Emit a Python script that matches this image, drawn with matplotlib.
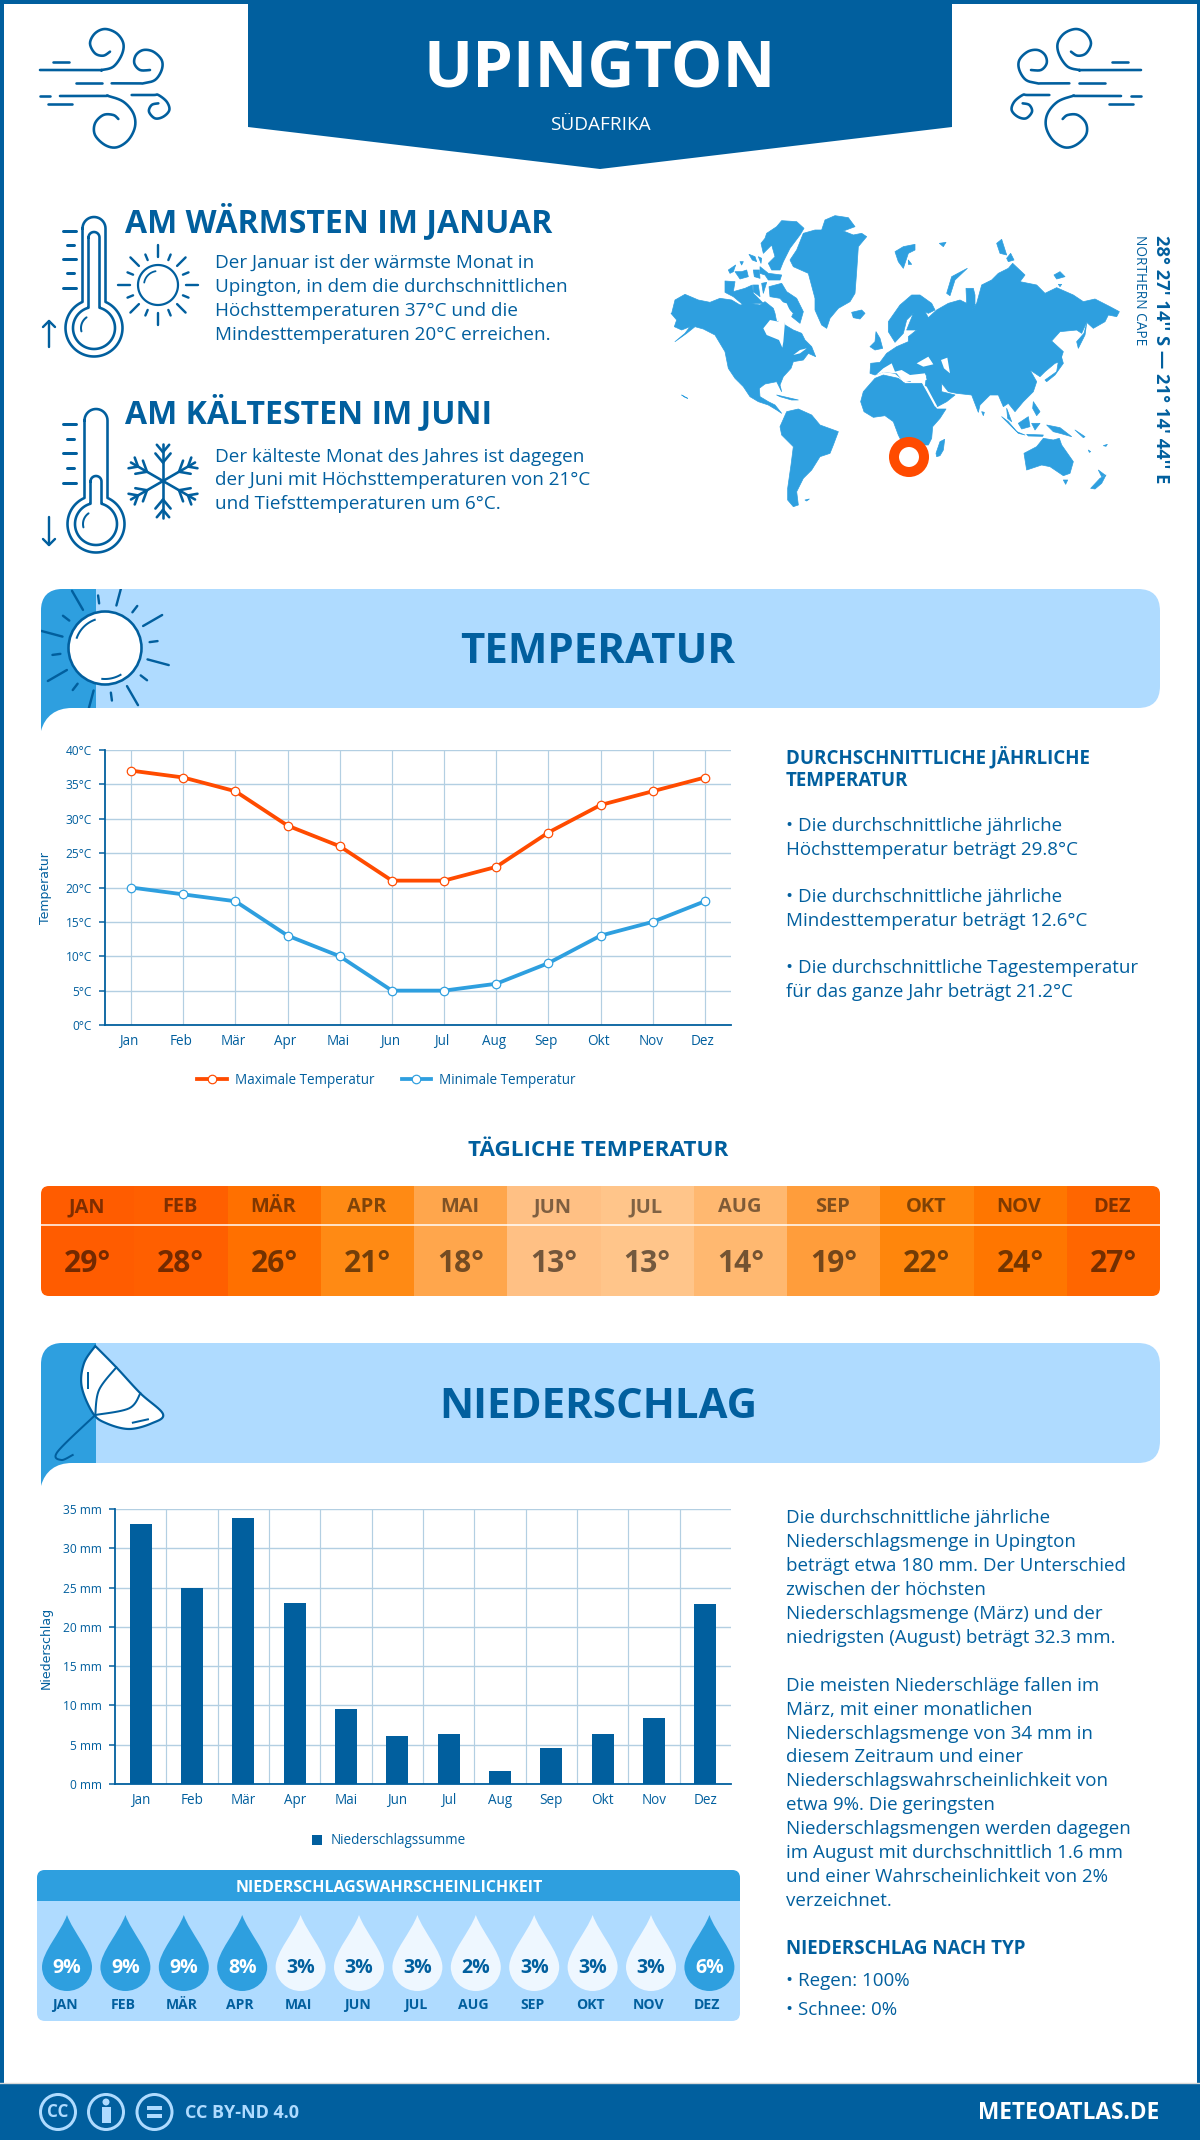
import numpy as np
import matplotlib
matplotlib.use("Agg")
import matplotlib.pyplot as plt
from matplotlib.patches import Circle, FancyBboxPatch, PathPatch, Polygon, Rectangle
from matplotlib.path import Path
from matplotlib.transforms import ScaledTranslation

DARK = "#015f9e"
MID = "#2e9fdf"
LIGHT = "#afdbff"
PALE = "#eef7ff"
RED = "#ff4b00"
GRID = "#b3cfe2"

months = ["Jan", "Feb", "Mär", "Apr", "Mai", "Jun", "Jul", "Aug", "Sep", "Okt", "Nov", "Dez"]
months_upper = ["JAN", "FEB", "MÄR", "APR", "MAI", "JUN", "JUL", "AUG", "SEP", "OKT", "NOV", "DEZ"]
temp_max = [37, 36, 34, 29, 26, 21, 21, 23, 28, 32, 34, 36]
temp_min = [20, 19, 18, 13, 10, 5, 5, 6, 9, 13, 15, 18]
temp_ticks = [0, 5, 10, 15, 20, 25, 30, 35, 40]
daily_temp = [29, 28, 26, 21, 18, 13, 13, 14, 19, 22, 24, 27]
daily_colors = ["#ff5c00", "#ff5f00", "#ff7000", "#ff8a14", "#ffa64c", "#ffc084",
                "#ffc58a", "#ffb870", "#ff9d3b", "#ff860c", "#ff7600", "#ff6600"]
rain = [33.1, 25.0, 33.9, 23.0, 9.6, 6.15, 6.4, 1.7, 4.6, 6.4, 8.45, 22.85]
rain_ticks = [0, 5, 10, 15, 20, 25, 30, 35]
rain_prob = [9, 9, 9, 8, 3, 3, 3, 2, 3, 3, 3, 6]

warm_lines = ["Der Januar ist der wärmste Monat in",
              "Upington, in dem die durchschnittlichen",
              "Höchsttemperaturen 37°C und die",
              "Mindesttemperaturen 20°C erreichen."]
cold_lines = ["Der kälteste Monat des Jahres ist dagegen",
              "der Juni mit Höchsttemperaturen von 21°C",
              "und Tiefsttemperaturen um 6°C."]
temp_notes = ["• Die durchschnittliche jährliche", "Höchsttemperatur beträgt 29.8°C", "",
              "• Die durchschnittliche jährliche", "Mindesttemperatur beträgt 12.6°C", "",
              "• Die durchschnittliche Tagestemperatur", "für das ganze Jahr beträgt 21.2°C"]
rain_notes = ["Die durchschnittliche jährliche", "Niederschlagsmenge in Upington",
              "beträgt etwa 180 mm. Der Unterschied", "zwischen der höchsten",
              "Niederschlagsmenge (März) und der", "niedrigsten (August) beträgt 32.3 mm.", "",
              "Die meisten Niederschläge fallen im", "März, mit einer monatlichen",
              "Niederschlagsmenge von 34 mm in", "diesem Zeitraum und einer",
              "Niederschlagswahrscheinlichkeit von", "etwa 9%. Die geringsten",
              "Niederschlagsmengen werden dagegen", "im August mit durchschnittlich 1.6 mm",
              "und einer Wahrscheinlichkeit von 2%", "verzeichnet."]

# world map outlines, traced at 3x, west part starts at px (665, 205), east part at px (860, 205)
land_west = [
    [(20,325),(30,285),(60,268),(100,285),(135,292),(165,280),(200,285),(225,300),(255,295),(285,300),(300,290),(325,310),(330,325),(335,350),(355,345),(360,360),(385,375),(410,385),(420,405),(440,425),(452,455),(430,445),(415,465),(385,470),(378,490),(355,515),(345,540),(350,560),(335,530),(300,537),(283,550),(285,575),(310,590),(330,600),(350,625),(335,615),(310,600),(280,590),(255,575),(235,545),(210,520),(190,490),(180,440),(150,390),(115,372),(90,365),(65,385),(30,410),(60,385),(75,365),(50,375),(28,365),(35,345),(18,325)],
    [(312,245),(350,235),(365,260),(395,280),(415,320),(405,355),(380,335),(385,325),(345,280),(315,275)],
    [(180,228),(210,230),(205,260),(240,250),(262,240),(265,265),(280,280),(295,295),(270,295),(235,300),(205,275),(180,262)],
    [(190,195),(212,180),(205,200),(195,205)],
    [(210,200),(230,200),(245,195),(250,215),(225,222)],
    [(225,170),(235,170),(230,180)],
    [(252,148),(270,155),(275,170),(262,165)],
    [(265,195),(283,195),(285,220),(268,215)],
    [(290,235),(305,232),(295,265)],
    [(265,240),(280,240),(285,275),(265,260)],
    [(280,155),(290,160),(288,175)],
    [(285,185),(310,205),(350,210),(345,225),(310,225),(300,210),(285,205)],
    [(305,85),(335,65),(350,47),(395,50),(417,70),(405,90),(375,130),(355,170),(345,195),(320,195),(310,175),(330,155),(320,120),(295,145),(288,115),(300,100)],
    [(375,165),(395,135),(415,85),(450,75),(470,75),(480,45),(510,32),(550,38),(570,65),(535,78),(565,90),(590,85),(605,95),(580,125),(575,200),(570,265),(555,290),(520,310),(495,340),(485,370),(470,360),(450,315),(450,280),(430,205),(385,185)],
    [(560,322),(590,315),(600,325),(585,342),(565,338)],
    [(345,665),(365,620),(400,612),(440,630),(465,660),(520,680),(505,720),(495,745),(465,755),(440,795),(415,820),(395,860),(400,900),(385,905),(368,885),(368,850),(378,780),(385,725),(350,690)],
    [(420,885),(433,882),(425,888)],
    [(50,570),(68,580),(60,577)],
    [(335,570),(400,585),(380,585),(345,575)],
]
sea_west = [
    [(295,370),(315,345),(340,350),(345,320),(345,290),(365,295),(378,325),(360,350),(355,410),(352,428),(342,405),(305,390)],
    [(385,450),(405,435),(425,430),(405,445)],
    [(218,530),(240,565),(232,560)],
]
land_east = [
    [(2,590),(10,560),(45,520),(70,510),(115,520),(135,535),(185,535),(200,560),(230,612),(258,612),(240,640),(218,665),(215,700),(205,720),(130,720),(115,690),(100,650),(75,632),(40,637),(12,620)],
    [(228,745),(240,710),(254,703),(250,735),(240,752),(230,755)],
    [(30,505),(32,475),(60,472),(80,445),(110,425),(145,410),(145,395),(170,375),(140,375),(160,325),(140,345),(130,385),(105,412),(85,380),(85,350),(120,300),(155,270),(180,270),(215,295),(225,315),(205,325),(195,320),(205,338),(230,315),(265,295),(300,285),(320,295),(318,250),(340,250),(345,270),(345,300),(335,318),(350,295),(365,240),(395,225),(415,205),(445,190),(458,175),(495,210),(480,230),(530,240),(555,265),(590,248),(640,270),(670,290),(705,282),(750,305),(778,320),(770,335),(745,330),(735,350),(700,370),(680,352),(665,385),(650,375),(600,380),(575,408),(610,440),(600,470),(585,475),(555,500),(540,515),(510,495),(530,530),(520,560),(490,590),(465,620),(445,595),(430,605),(415,570),(390,570),(360,600),(355,622),(335,570),(290,565),(265,560),(245,535),(245,560),(285,570),(260,590),(232,605),(195,545),(200,510),(170,510),(150,530),(130,525),(105,505),(70,500),(45,510)],
    [(30,425),(45,410),(48,380),(60,400),(68,430),(45,435)],
    [(105,140),(130,125),(165,118),(165,135),(145,145),(130,190),(115,170)],
    [(145,165),(155,178),(145,178)],
    [(260,265),(275,215),(322,190),(285,225),(270,272)],
    [(410,115),(425,103),(440,150),(420,145)],
    [(440,160),(452,145),(462,165),(445,170)],
    [(238,115),(258,112),(250,125)],
    [(582,210),(600,200),(615,215),(590,222)],
    [(595,238),(605,238),(600,245)],
    [(650,410),(672,385),(680,355),(675,390),(655,430)],
    [(555,525),(590,500),(600,440),(610,475),(585,510),(560,530)],
    [(425,635),(445,650),(475,685),(495,690),(470,680)],
    [(440,610),(455,650),(443,640)],
    [(475,655),(505,635),(510,665),(485,672)],
    [(500,688),(550,690),(548,694),(505,693)],
    [(515,655),(540,655),(525,675)],
    [(520,590),(540,620),(530,632),(518,610)],
    [(560,660),(600,668),(635,695),(600,685),(580,680)],
    [(645,675),(675,695),(670,698)],
    [(685,735),(692,740),(688,742)],
    [(730,722),(742,718),(738,724)],
    [(492,745),(530,725),(550,700),(580,705),(598,700),(605,720),(640,770),(630,805),(610,812),(570,785),(545,780),(500,795)],
    [(610,825),(623,825),(617,838)],
    [(692,850),(720,820),(738,810),(725,835),(705,852)],
    [(715,795),(735,810),(725,815)],
    [(365,620),(373,622),(370,632)],
]
sea_east = [
    [(170,475),(205,455),(220,478),(190,485)],
    [(243,465),(262,458),(270,505),(252,490)],
    [(48,510),(70,490),(95,475),(105,500),(125,495),(150,510),(195,505),(200,525),(130,530),(110,505),(70,502)],
    [(190,540),(200,545),(232,605),(225,605)],
]
wind_parts = [
    [(30,150),(200,150),(215,150),(250,140),(275,105),(280,70),(260,40),(225,27),(195,40),(180,70),(195,100),(220,107),(240,95)],
    [(68,125),(118,125)],
    [(138,190),(215,190)],
    [(245,190),(325,190),(340,190),(375,180),(395,150),(395,120),(370,95),(340,90),(318,105),(313,130),(330,150),(360,150)],
    [(30,228),(60,228)],
    [(90,228),(220,228),(235,228),(280,245),(310,280),(315,320),(295,360),(260,382),(225,375),(195,345),(195,310),(220,285),(250,285),(265,297)],
    [(55,252),(125,252)],
    [(305,225),(370,225),(385,225),(410,245),(418,270),(400,290),(375,295),(357,275),(365,255),(385,250)],
]

plt.rcParams["font.family"] = ["Open Sans", "DejaVu Sans"]
fig = plt.figure(figsize=(12, 21.4), dpi=100, facecolor="white")
bg = fig.add_axes([0, 0, 1, 1])
bg.set_xlim(0, 1200)
bg.set_ylim(2140, 0)
bg.axis("off")


def px(size):
    return size * 0.72


def label(x, y, s, size, color=DARK, weight="normal", ha="left", **kw):
    return bg.text(x, y, s, fontsize=px(size), color=color, fontweight=weight, ha=ha, va="center", **kw)


def smooth(points, n=12):
    # catmull-rom through the given points, only used for the drawn icons
    pts = np.array(points, dtype=float)
    pts = np.vstack([pts[0], pts, pts[-1]])
    out = []
    for i in range(1, len(pts) - 2):
        p0, p1, p2, p3 = pts[i - 1], pts[i], pts[i + 1], pts[i + 2]
        for t in np.linspace(0, 1, n, endpoint=False):
            out.append(0.5 * (2 * p1 + (p2 - p0) * t + (2 * p0 - 5 * p1 + 4 * p2 - p3) * t ** 2
                              + (3 * p1 - p0 - 3 * p2 + p3) * t ** 3))
    out.append(pts[-2])
    return np.array(out)


def stroke(points, lw=2.2, color=DARK, **kw):
    pts = np.array(points, dtype=float)
    return bg.plot(pts[:, 0], pts[:, 1], color=color, lw=px(lw), solid_capstyle="round", **kw)[0]


def wind_icon(flip=False):
    for part in wind_parts:
        pts = smooth(part) if len(part) > 2 else np.array(part, dtype=float)
        x = 30 + pts[:, 0] / 3
        if flip:
            x = 1181 - x
        stroke(np.column_stack([x, 20 + pts[:, 1] / 3]), lw=2.6)


def thermo_outline(cx, top, bulb_y, half, r):
    a0 = np.arcsin(half / r)
    ang = np.linspace(-np.pi / 2 + a0, 3 * np.pi / 2 - a0, 80)
    bulb = np.column_stack([cx + r * np.cos(ang), bulb_y + r * np.sin(ang)])
    cap = np.linspace(np.pi, 2 * np.pi, 20)
    head = np.column_stack([cx + half * np.cos(cap), top + half + half * np.sin(cap)])
    return np.vstack([head, bulb, head[:1]])


def thermometer(cx, top, inner_top, bulb_y, ticks, arrow, tick_x):
    stroke(thermo_outline(cx, top, bulb_y, 11.5, 28.5), lw=2.6)
    stroke(thermo_outline(cx, inner_top, bulb_y, 5.5, 21), lw=2.6)
    ang = np.linspace(np.radians(165), np.radians(235), 15)
    stroke(np.column_stack([cx + 13 * np.cos(ang), bulb_y + 13 * np.sin(ang)]), lw=2)
    for i, y in enumerate(ticks):
        x0 = tick_x + 4 if i % 2 else tick_x
        x1 = tick_x + 11 if i % 2 else tick_x + 13
        stroke([(x0, y), (x1, y)], lw=3)
    x, y0, y1, up = arrow
    tip, tail = (y0, y1) if up else (y1, y0)
    d = 6 if up else -6
    stroke([(x, tail), (x, tip)], lw=2.4)
    stroke([(x - 6, tip + d), (x, tip), (x + 6, tip + d)], lw=2.4)


def sun_icon(cx, cy):
    ang = np.linspace(0, 2 * np.pi, 100)
    stroke(np.column_stack([cx + 20 * np.cos(ang), cy + 20 * np.sin(ang)]))
    arc = np.linspace(np.radians(190), np.radians(260), 20)
    stroke(np.column_stack([cx + 14 * np.cos(arc), cy + 14 * np.sin(arc)]), lw=1.8)
    for i in range(16):
        a = i * np.pi / 8
        r0, r1 = (28, 40) if i % 2 == 0 else (27, 33)
        if i % 4 == 2:
            r0, r1 = 27, 39
        stroke([(cx + r0 * np.cos(a), cy + r0 * np.sin(a)), (cx + r1 * np.cos(a), cy + r1 * np.sin(a))], lw=2.4)


def snow_icon(cx, cy, r=37):
    for i in range(6):
        a = np.pi / 2 + i * np.pi / 3
        u = np.array([np.cos(a), np.sin(a)])
        c = np.array([cx, cy])
        stroke([c, c + r * u], lw=2.6)
        for dist, arm in [(0.5, 0.32), (0.78, 0.26)]:
            base = c + dist * r * u
            for sign in (-1, 1):
                b = a + sign * np.radians(140)
                stroke([base, base - arm * r * np.array([np.cos(b), np.sin(b)])], lw=2.6)


def banner(top, bottom, title):
    bg.add_patch(FancyBboxPatch((41, top), 1119, bottom - top, boxstyle="round,pad=0,rounding_size=22",
                                fc=LIGHT, ec="none"))
    verts = [(41, bottom + 23), (45, bottom + 8), (56, bottom), (72, bottom), (96, bottom), (96, top),
             (63, top), (48, top), (41, top + 8), (41, top + 22), (41, bottom + 23)]
    codes = [Path.MOVETO, Path.CURVE4, Path.CURVE4, Path.CURVE4, Path.LINETO, Path.LINETO, Path.LINETO,
             Path.CURVE4, Path.CURVE4, Path.CURVE4, Path.LINETO]
    bg.add_patch(PathPatch(Path(verts, codes), fc=MID, ec="none"))
    label(598, (top + bottom) / 2 + 4, title, 42, weight="bold", ha="center")


# frame and header
bg.add_patch(Rectangle((0, 0), 1200, 2140, fc="none", ec=DARK, lw=px(7)))
bg.add_patch(Polygon([(248, 0), (952, 0), (952, 127), (600, 169), (248, 127)], fc=DARK, ec="none"))
label(600, 71, "UPINGTON", 65, color="white", weight="bold", ha="center")
label(600, 125, "SÜDAFRIKA", 19, color="white", ha="center")
wind_icon()
wind_icon(flip=True)

# warmest / coldest blocks
label(125, 222, "AM WÄRMSTEN IM JANUAR", 32, weight="bold")
for line, y in zip(warm_lines, [263, 287, 311, 335]):
    label(215, y, line, 18.9)
label(125, 413, "AM KÄLTESTEN IM JUNI", 32, weight="bold")
for line, y in zip(cold_lines, [457, 480, 504]):
    label(215, y, line, 18.9)
thermometer(94, 217, 232, 328, [231, 245, 259, 273, 288], (49, 321, 347, True), 63)
thermometer(96, 409, 476, 524, [424, 439, 453, 468, 483], (49, 517, 545, False), 63)
sun_icon(158, 285)
snow_icon(163, 481)


# world map
def to_map(points, x0):
    pts = np.array(points, dtype=float)
    return np.column_stack([x0 + pts[:, 0] / 3, 205 + pts[:, 1] / 3])


for shapes, x0 in [(land_west, 665), (land_east, 860)]:
    for shape in shapes:
        bg.add_patch(Polygon(to_map(shape, x0), fc=MID, ec=MID, lw=0.5, joinstyle="round"))
for shapes, x0 in [(sea_west, 665), (sea_east, 860)]:
    for shape in shapes:
        bg.add_patch(Polygon(to_map(shape, x0), fc="white", ec="none"))
bg.add_patch(Circle((909, 457), 15, fc="white", ec=RED, lw=px(10)))
coord = label(1161, 235, "28° 27' 14'' S — 21° 14' 44'' E", 18.4, weight="bold", rotation=-90)
coord.set_va("top")
coord.set_ha("center")
region = label(1140, 235, "NORTHERN CAPE", 13.6, rotation=-90)
region.set_va("top")
region.set_ha("center")

# temperature banner, rays stay inside the band
banner(589, 708, "TEMPERATUR")
band = Rectangle((41, 589), 200, 119, fc="none", ec="none")
bg.add_patch(band)
bg.add_patch(Circle((105, 648), 36.5, fc="white", ec=DARK, lw=px(2.6), zorder=3))
for i in range(16):
    a = np.radians(15) + i * np.pi / 8
    r0, r1 = (44, 66) if i % 2 == 0 else (45, 53)
    ray = stroke([(105 + r0 * np.cos(a), 648 + r0 * np.sin(a)), (105 + r1 * np.cos(a), 648 + r1 * np.sin(a))], lw=2.4)
    ray.set_clip_path(band)
arc = np.linspace(np.radians(200), np.radians(250), 15)
bg.plot(105 + 30 * np.cos(arc), 648 + 30 * np.sin(arc), color=DARK, lw=px(2), zorder=4)
arc = np.linspace(np.radians(60), np.radians(95), 15)
bg.plot(105 + 31 * np.cos(arc), 648 + 31 * np.sin(arc), color=DARK, lw=px(2), zorder=4)


def chart_axes(left, top, right, bottom):
    ax = fig.add_axes([left / 1200, 1 - bottom / 2140, (right - left) / 1200, (bottom - top) / 2140])
    ax.patch.set_alpha(0)
    for side in ("top", "right"):
        ax.spines[side].set_visible(False)
    for side in ("left", "bottom"):
        ax.spines[side].set_color(DARK)
        ax.spines[side].set_linewidth(px(1.8))
    ax.set_axisbelow(True)
    ax.tick_params(axis="y", length=px(6), width=px(1.5), color=DARK, labelcolor=DARK, labelsize=px(12), pad=px(7))
    ax.tick_params(axis="x", length=0, labelcolor=DARK, labelsize=px(13.5), pad=px(9))
    ax.grid(axis="y", color=GRID, lw=px(1.4))
    return ax


# temperature chart
ax1 = chart_axes(105, 750, 731, 1025)
ax1.set_xlim(-0.5, 11.5)
ax1.set_ylim(0, 40)
ax1.set_yticks(temp_ticks)
ax1.set_yticklabels([f"{v}°C" for v in temp_ticks])
ax1.set_xticks(range(12))
ax1.set_xticklabels(months)
for tick in ax1.get_xticklabels():
    tick.set_transform(tick.get_transform() + ScaledTranslation(-2 / 100, 0, fig.dpi_scale_trans))
ax1.grid(axis="x", color=GRID, lw=px(1.2))
for values, color, name in [(temp_max, RED, "Maximale Temperatur"), (temp_min, MID, "Minimale Temperatur")]:
    ax1.plot(range(12), values, color=color, lw=px(3.8), marker="o", ms=px(8.5), mfc="white",
             mec=color, mew=px(1.2), label=name, clip_on=False, zorder=3)
ax1.legend(loc="upper left", bbox_to_anchor=(0.128, -0.13), ncol=2, frameon=False,
           fontsize=px(13.5), labelcolor=DARK, handlelength=2.2, columnspacing=2.0, handletextpad=0.6)
label(46, 888, "Temperatur", 12.5, rotation=90, ha="center", family="DejaVu Sans")

label(786, 757, "DURCHSCHNITTLICHE JÄHRLICHE", 18.8, weight="bold")
label(786, 781, "TEMPERATUR", 18.8, weight="bold")
for i, line in enumerate(temp_notes):
    label(786, 826 + i * 23.7, line, 18.8)

# daily temperature strip
label(598, 1150, "TÄGLICHE TEMPERATUR", 22.5, weight="bold", ha="center")
strip = FancyBboxPatch((41, 1186), 1119, 110, boxstyle="round,pad=0,rounding_size=8", fc="none", ec="none")
bg.add_patch(strip)
cell_w = 1119 / 12
for i, (name, value, color) in enumerate(zip(months_upper, daily_temp, daily_colors)):
    cell = Rectangle((41 + i * cell_w, 1186), cell_w + 0.5, 110, fc=color, ec="none")
    bg.add_patch(cell)
    cell.set_clip_path(strip)
    cx = 41 + (i + 0.5) * cell_w
    label(cx - 1, 1207, name, 20, color="black", weight="bold", ha="center", alpha=0.5)
    label(cx, 1264, f"{value}°", 30, color="black", weight="bold", ha="center", alpha=0.55)
bg.plot([41, 1160], [1225, 1225], color="white", lw=px(1.5))

# rain banner and umbrella
banner(1343, 1463, "NIEDERSCHLAG")


def to_z3(points):
    pts = np.array(points, dtype=float)
    return np.column_stack([20 + pts[:, 0] / 1.329, 1130 + pts[:, 1] / 3])


canopy = smooth([(100,648),(128,712),(160,790),(190,852),(175,880),(145,897),(115,880),(97,850),(82,770),(85,700),(100,648)])
bg.add_patch(Polygon(to_z3(canopy), fc="white", ec=DARK, lw=px(2.2), zorder=3))
for part in ([(128,712),(105,780),(100,855)], [(160,790),(145,835),(100,855)],
             [(100,855),(50,965),(55,990),(70,975)], [(90,730),(90,775)], [(150,878),(170,868)]):
    bg.plot(*to_z3(smooth(part)).T, color=DARK, lw=px(2), zorder=4)

# rain chart
ax2 = chart_axes(115, 1509, 731, 1784)
ax2.set_xlim(-0.5, 11.5)
ax2.set_ylim(0, 35)
ax2.set_yticks(rain_ticks)
ax2.set_yticklabels([f"{v} mm" for v in rain_ticks])
ax2.set_xticks(range(12))
ax2.set_xticklabels(months)
ax2.set_xticks(np.arange(0.5, 11), minor=True)
ax2.tick_params(axis="x", which="minor", length=0)
ax2.grid(axis="x", which="minor", color=GRID, lw=px(1.2))
ax2.bar(range(12), rain, width=0.43, color=DARK, label="Niederschlagssumme", zorder=3)
ax2.legend(loc="upper left", bbox_to_anchor=(0.30, -0.135), frameon=False, fontsize=px(13.5),
           labelcolor=DARK, handlelength=0.75, handleheight=0.75, handletextpad=0.6)
label(46, 1648, "Niederschlag", 12.5, rotation=90, ha="center", family="DejaVu Sans")

for i, line in enumerate(rain_notes):
    label(786, 1518 + i * 23.95, line, 18.8)
label(786, 1949, "NIEDERSCHLAG NACH TYP", 18.8, weight="bold")
label(786, 1981, "• Regen: 100%", 18.8)
label(786, 2010, "• Schnee: 0%", 18.8)

# probability panel
bg.add_patch(FancyBboxPatch((37, 1870), 703, 151, boxstyle="round,pad=0,rounding_size=8", fc=LIGHT, ec="none"))
bg.add_patch(FancyBboxPatch((37, 1870), 703, 25, boxstyle="round,pad=0,rounding_size=8", fc=MID, ec="none"))
bg.add_patch(Rectangle((37, 1882), 703, 19, fc=MID, ec="none"))
label(389, 1888, "NIEDERSCHLAGSWAHRSCHEINLICHKEIT", 16, color="white", weight="bold", ha="center")
drop_codes = [Path.MOVETO] + [Path.CURVE4] * 12
drop_verts = np.array([(0, -52), (6, -35), (25, -15), (25, 0), (25, 14), (13, 24), (0, 24),
                       (-13, 24), (-25, 14), (-25, 0), (-25, -15), (-6, -35), (0, -52)], dtype=float)
for i, (name, value) in enumerate(zip(months_upper, rain_prob)):
    cx = 67 + i * 58.4
    wet = value >= 5
    bg.add_patch(PathPatch(Path(drop_verts + (cx, 1967), drop_codes), fc=MID if wet else PALE, ec="none"))
    label(cx, 1968, f"{value}%", 19.5, color="white" if wet else DARK, weight="bold", ha="center")
    label(cx - 2, 2005, name, 14, weight="bold", ha="center")

# footer
bg.add_patch(Rectangle((0, 2083), 1200, 57, fc=DARK, ec="none"))
bg.plot([0, 1200], [2082.5, 2082.5], color="#d8d8d8", lw=1)
for cx in (58, 106, 154.5):
    bg.add_patch(Circle((cx, 2112), 17.5, fc="none", ec=LIGHT, lw=px(3)))
label(58, 2112, "CC", 17, color=LIGHT, weight="bold", ha="center")
bg.add_patch(Circle((106, 2102), 3.5, fc=LIGHT, ec="none"))
bg.add_patch(Rectangle((101.5, 2107), 9, 16, fc=LIGHT, ec="none"))
bg.add_patch(Rectangle((147, 2106), 15, 3.5, fc=LIGHT, ec="none"))
bg.add_patch(Rectangle((147, 2114), 15, 3.5, fc=LIGHT, ec="none"))
label(185, 2113, "CC BY-ND 4.0", 18, color=LIGHT, weight="bold")
label(1159, 2113, "METEOATLAS.DE", 22.6, color="white", weight="bold", ha="right")

fig.savefig("out.png", dpi=100)
